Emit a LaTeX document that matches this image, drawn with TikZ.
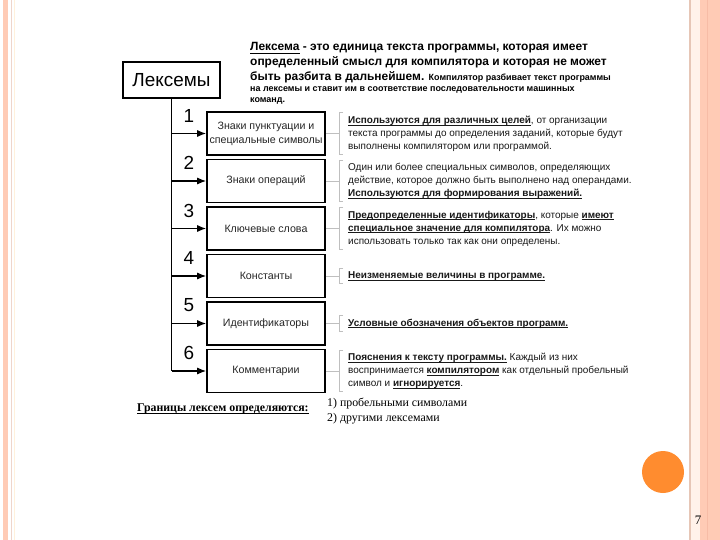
\documentclass[tikz,border=0pt]{standalone}
\usepackage{fontspec}
\setmainfont{Liberation Sans}
\newfontfamily\tnr{Liberation Serif}
\usetikzlibrary{calc,arrows.meta}
\definecolor{bsalmon}{HTML}{FFCBB5}
\definecolor{bsalmondk}{HTML}{F7BCA6}
\definecolor{bthin}{HTML}{EFD5CB}
\definecolor{bcream}{HTML}{FFF1DC}
\definecolor{bcreamfill}{HTML}{FFF2EA}
\definecolor{btan}{HTML}{E6C6B6}
\definecolor{dotorange}{HTML}{FF8C2F}
\newcommand\myul[1]{\leavevmode\setbox0\hbox{#1}\rlap{\vrule height -0.13em depth 0.21em width \wd0}\box0}
\newcommand\bu[1]{{\bfseries\myul{#1}}}
\begin{document}
\begin{tikzpicture}[x=1bp,y=-1bp,
  lexbox/.style={draw=black,line width=1.8bp,minimum width=97bp,minimum height=36bp,inner sep=0,font=\fontsize{19}{22}\selectfont},
  itembox/.style={draw=black,line width=1.6bp,minimum width=118bp,minimum height=43bp,inner sep=0,align=center,font=\fontsize{10.7}{14}\selectfont,text=black!85},
  numlbl/.style={font=\fontsize{19}{22}\selectfont,inner sep=0},
  desc/.style={anchor=west,align=left,inner xsep=0,inner ysep=3bp,font=\fontsize{10}{13}\selectfont,text=black!90},
  brk/.style={draw=black!25,line width=0.8bp},
  trunk/.style={line width=1.8bp},
  arr/.style={line width=1.2bp,-{Latex[length=9bp,width=7bp]}},
  toptext/.style={anchor=base west,inner sep=0,font=\fontsize{12}{15}\bfseries\selectfont},
  topsmall/.style={anchor=base west,inner sep=0,font=\fontsize{9}{11}\bfseries\selectfont},
  bottext/.style={anchor=base west,inner sep=0,font=\tnr\fontsize{11.9}{15}\selectfont}
]
\useasboundingbox (0,0) rectangle (720,540);
\fill[white] (0,0) rectangle (720,540);
% slide borders
\fill[bsalmon] (3,0) rectangle (8,540);
\draw[bthin,line width=0.8bp] (11.5,0) -- (11.5,540);
\draw[bcream,line width=0.8bp] (14.5,0) -- (14.5,540);
\fill[bcreamfill] (691,0) rectangle (700,540);
\draw[btan,line width=1.5bp] (690,0) -- (690,540);
\fill[bsalmon] (700,0) rectangle (720,540);
\draw[bsalmondk,line width=1bp] (707,0) -- (707,540);
\fill[dotorange] (663,472) circle (21);
\node[inner sep=0,font=\tnr\fontsize{13}{15}\selectfont] (pg) at (698,520) {7};

% top paragraph
\node[toptext] (t1) at (250,51) {\myul{Лексема}\ - это единица текста программы, которая имеет};
\node[toptext] (t2) at (250,66) {определенный смысл для компилятора и которая не может};
\node[toptext] (t3) at (250,80.5) {быть разбита в дальнейшем. {\fontsize{9}{11}\selectfont Компилятор разбивает текст программы}};
\node[topsmall] (t4) at (250,91.5) {на лексемы и ставит им в соответствие последовательности машинных};
\node[topsmall] (t5) at (250,102.5) {команд.};

% main box
\node[lexbox] (lex) at (171.5,80) {Лексемы};

% item boxes
\node[itembox] (b1) at (266,133.5) {Знаки пунктуации и\\специальные символы};
\node[itembox] (b2) at (266,181) {Знаки операций};
\node[itembox] (b3) at (266,228.5) {Ключевые слова};
\node[itembox] (b4) at (266,276) {Константы};
\node[itembox] (b5) at (266,323.5) {Идентификаторы};
\node[itembox] (b6) at (266,371) {Комментарии};

% numbers
\node[numlbl] (n1) at (189,115.5) {1};
\node[numlbl] (n2) at (189,163) {2};
\node[numlbl] (n3) at (189,210.5) {3};
\node[numlbl] (n4) at (189,258) {4};
\node[numlbl] (n5) at (189,305.5) {5};
\node[numlbl] (n6) at (189,353) {6};

% trunk and arrows
\draw[trunk] (lex.south) -- (lex.south |- b6.west);
\foreach \i in {1,...,6}{
  \draw[arr] (lex.south |- b\i.west) -- (b\i.west);
}

% descriptions
\node[desc] (d1) at (348,133.5) {\bu{Используются для различных целей}, от организации\\текста программы до определения заданий, которые будут\\выполнены компилятором или программой.};
\node[desc] (d2) at (348,181) {Один или более специальных символов, определяющих\\действие, которое должно быть выполнено над операндами.\\\bu{Используются для формирования выражений.}};
\node[desc] (d3) at (348,228.5) {\bu{Предопределенные идентификаторы}, которые \bu{имеют}\\\bu{специальное значение для компилятора}. Их можно\\использовать только так как они определены.};
\node[desc] (d4) at (348,276) {\bu{Неизменяемые величины в программе.}};
\node[desc] (d5) at (348,323.5) {\bu{Условные обозначения объектов программ.}};
\node[desc] (d6) at (348,371) {\bu{Пояснения к тексту программы.} Каждый из них\\воспринимается \bu{компилятором} как отдельный пробельный\\символ и \bu{игнорируется}.};

% brackets and ticks
\foreach \i in {1,...,6}{
  \draw[brk] ($(d\i.north west)+(-5,0)$) -- ($(d\i.north west)+(-9,0)$) -- ($(d\i.south west)+(-9,0)$) -- ($(d\i.south west)+(-5,0)$);
  \draw[brk] (b\i.east) -- ($(b\i.east -| d\i.west)+(-9,0)$);
}

% bottom
\node[bottext] (g) at (137,411) {\bfseries\myul{Границы лексем определяются:}};
\node[bottext] (g1) at (327,406) {1) пробельными символами};
\node[bottext] (g2) at (327,421) {2) другими лексемами};
\end{tikzpicture}
\end{document}
